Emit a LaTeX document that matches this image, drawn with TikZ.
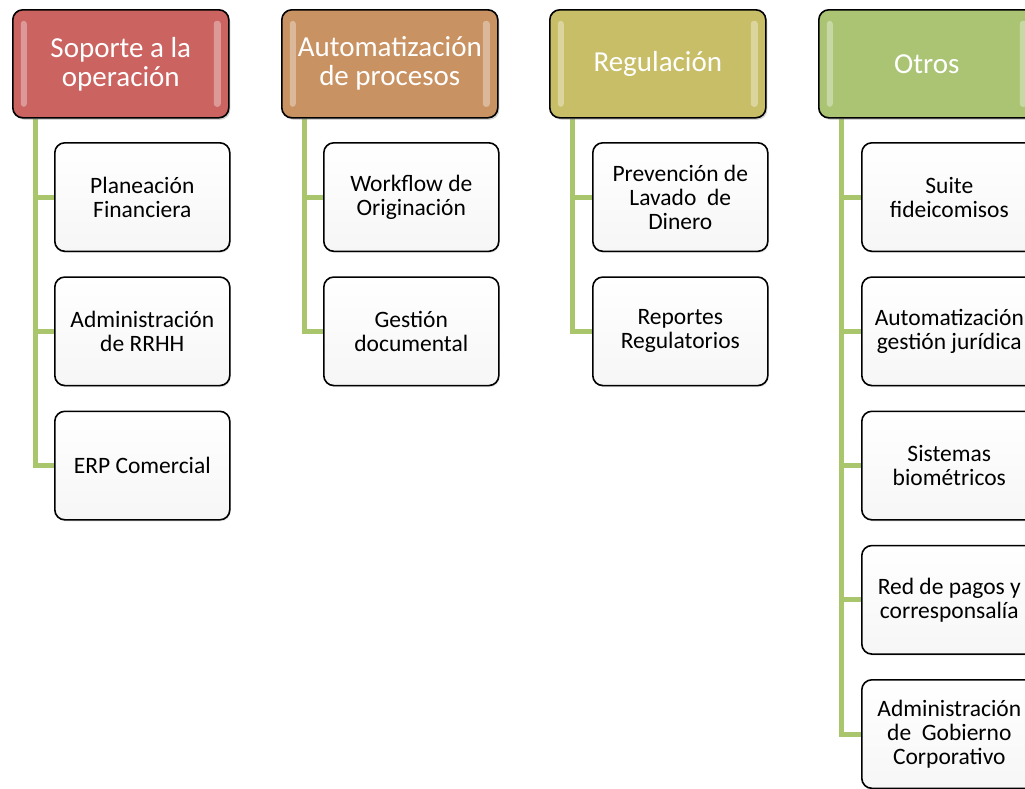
\documentclass[tikz,border=0pt]{standalone}
\usepackage{fontspec}
\setmainfont{Carlito}
\usetikzlibrary{positioning,shadows,backgrounds}

\definecolor{soporte}{HTML}{CB6360}
\definecolor{automat}{HTML}{C99263}
\definecolor{regula}{HTML}{C8BE68}
\definecolor{otros}{HTML}{AAC474}
\definecolor{conngreen}{HTML}{A9C66C}

\begin{document}
\begin{tikzpicture}[x=1pt,y=-1pt,
    header/.style={draw=black,line width=1.6pt,rounded corners=10pt,
        minimum width=216pt,minimum height=108pt,anchor=north west,
        text=white,align=center,font=\fontsize{29}{29}\selectfont,
        drop shadow={shadow xshift=1.5pt,shadow yshift=-2pt,opacity=.35},
        path picture={
            \fill[white,opacity=.35,rounded corners=3pt]
                ([xshift=8pt,yshift=-11pt]path picture bounding box.north west) rectangle
                ([xshift=14pt,yshift=11pt]path picture bounding box.south west);
            \fill[white,opacity=.35,rounded corners=3pt]
                ([xshift=-8pt,yshift=-11pt]path picture bounding box.north east) rectangle
                ([xshift=-15pt,yshift=11pt]path picture bounding box.south east);}},
    item/.style={draw=black,line width=1.6pt,rounded corners=10pt,
        minimum width=175pt,minimum height=108.5pt,align=center,
        font=\fontsize{23.5}{24}\selectfont,top color=white,bottom color=gray!7,
        drop shadow={shadow xshift=1pt,shadow yshift=-1.5pt,opacity=.2}},
    conn/.style={draw=conngreen,line width=5pt}]

    \useasboundingbox (0,0) rectangle (1025,788);

    % headers
    \node[header,fill=soporte] (h1) at (12,9) {Soporte a la\\operación};
    \node[header,fill=automat] (h2) at (281,9) {Automatización\\de procesos};
    \node[header,fill=regula] (h3) at (549,9) {Regulación};
    \node[header,fill=otros] (h4) at (818,9) {Otros};

    % Soporte a la operacion
    \node[item,anchor=north west] (s1) at (54,142) {Planeación\\Financiera};
    \node[item,below=24.15pt of s1] (s2) {Administración\\de RRHH};
    \node[item,below=24.15pt of s2] (s3) {ERP Comercial};

    % Automatizacion de procesos
    \node[item,anchor=north west] (a1) at (323,142) {Workflow de\\Originación};
    \node[item,below=24.15pt of a1] (a2) {Gestión\\documental};

    % Regulacion
    \node[item,anchor=north west] (r1) at (592,142) {Prevención de\\Lavado~ de\\Dinero};
    \node[item,below=24.15pt of r1] (r2) {Reportes\\Regulatorios};

    % Otros
    \node[item,anchor=north west] (o1) at (861,142) {Suite\\fideicomisos};
    \node[item,below=24.15pt of o1] (o2) {Automatización\\gestión jurídica};
    \node[item,below=24.15pt of o2] (o3) {Sistemas\\biométricos};
    \node[item,below=24.15pt of o3] (o4) {Red de pagos y\\corresponsalía};
    \node[item,below=24.15pt of o4] (o5) {Administración\\de~ Gobierno\\Corporativo};

    \coordinate (t1) at ([xshift=23pt]h1.south west);
    \coordinate (t2) at ([xshift=23pt]h2.south west);
    \coordinate (t3) at ([xshift=23pt]h3.south west);
    \coordinate (t4) at ([xshift=23pt]h4.south west);

    \begin{scope}[on background layer]
        \draw[conn] (t1) |- (s1.west);
        \draw[conn] (t1) |- (s2.west);
        \draw[conn] (t1) |- (s3.west);

        \draw[conn] (t2) |- (a1.west);
        \draw[conn] (t2) |- (a2.west);

        \draw[conn] (t3) |- (r1.west);
        \draw[conn] (t3) |- (r2.west);

        \draw[conn] (t4) |- (o1.west);
        \draw[conn] (t4) |- (o2.west);
        \draw[conn] (t4) |- (o3.west);
        \draw[conn] (t4) |- (o4.west);
        \draw[conn] (t4) |- (o5.west);
    \end{scope}
\end{tikzpicture}
\end{document}
